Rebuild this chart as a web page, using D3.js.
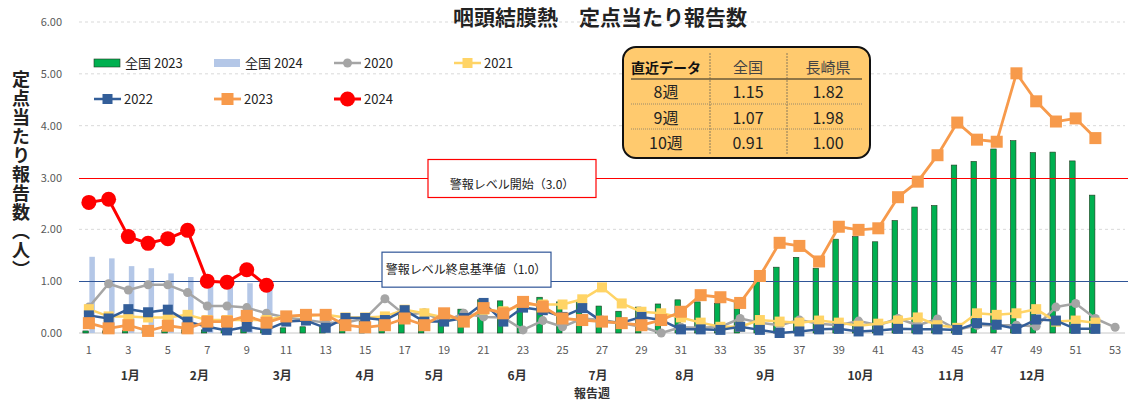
<!DOCTYPE html>
<html>
<head>
<meta charset="utf-8">
<script src="https://cdn.jsdelivr.net/npm/d3@7"></script>
<style>
  body { margin: 0; background: #fff; }
  text { font-family: "Noto Sans CJK JP", "Noto Sans", sans-serif; }
</style>
</head>
<body>
<div id="chart"></div>
<script>
// weeks 1..53
const weeks = d3.range(1, 54);
const xTicks = weeks.filter((w) => w % 2 === 1);
const yTicks = [0, 1, 2, 3, 4, 5, 6];

// month labels sit between week ticks
const months = ["1月", "2月", "3月", "4月", "5月", "6月", "7月", "8月", "9月", "10月", "11月", "12月"];
const monthWeek = [3.1, 6.6, 10.8, 15.0, 18.5, 22.7, 26.8, 31.2, 35.3, 40.1, 44.7, 48.8];

const zenkoku2023 = [
  0.04, 0.04, 0.05, 0.05, 0.05, 0.06, 0.06, 0.07, 0.08, 0.09,
  0.10, 0.12, 0.15, 0.20, 0.22, 0.25, 0.35, 0.30, 0.30, 0.46,
  0.64, 0.62, 0.55, 0.69, 0.60, 0.62, 0.52, 0.42, 0.50, 0.56,
  0.64, 0.60, 0.57, 0.62, 0.99, 1.27, 1.46, 1.25, 1.81, 1.86,
  1.76, 2.17, 2.43, 2.46, 3.24, 3.31, 3.55, 3.71, 3.48, 3.49,
  3.32, 2.66
];
const zenkoku2024 = [1.47, 1.44, 1.29, 1.25, 1.15, 1.08, 1.02, 0.98, 0.96, 0.84];

const y2020 = [
  0.50, 0.95, 0.83, 0.93, 0.93, 0.78, 0.52, 0.52, 0.49, 0.38,
  0.30, 0.25, 0.20, 0.20, 0.28, 0.66, 0.35, 0.39, 0.22, 0.38,
  0.31, 0.30, 0.06, 0.24, 0.12, 0.28, 0.25, 0.19, 0.12, 0.00,
  0.11, 0.10, 0.12, 0.28, 0.20, 0.15, 0.25, 0.18, 0.15, 0.23,
  0.15, 0.28, 0.15, 0.27, 0.06, 0.15, 0.15, 0.15, 0.13, 0.50,
  0.57, 0.28, 0.11
];
const y2021 = [
  0.46, 0.32, 0.32, 0.30, 0.30, 0.35, 0.25, 0.25, 0.25, 0.25,
  0.33, 0.33, 0.35, 0.30, 0.30, 0.32, 0.45, 0.38, 0.30, 0.25,
  0.45, 0.42, 0.55, 0.55, 0.55, 0.65, 0.88, 0.57, 0.41, 0.38,
  0.30, 0.20, 0.12, 0.12, 0.25, 0.22, 0.20, 0.24, 0.20, 0.14,
  0.18, 0.24, 0.30, 0.15, 0.10, 0.38, 0.35, 0.38, 0.46, 0.22,
  0.24, 0.20
];
const y2022 = [
  0.34, 0.28, 0.46, 0.40, 0.45, 0.22, 0.12, 0.05, 0.12, 0.06,
  0.22, 0.24, 0.10, 0.29, 0.29, 0.25, 0.44, 0.22, 0.22, 0.29,
  0.58, 0.22, 0.49, 0.44, 0.31, 0.48, 0.22, 0.20, 0.31, 0.25,
  0.07, 0.07, 0.06, 0.12, 0.06, 0.00, 0.03, 0.07, 0.08, 0.03,
  0.05, 0.08, 0.07, 0.07, 0.06, 0.19, 0.16, 0.08, 0.26, 0.24,
  0.08, 0.08
];
const y2023 = [
  0.19, 0.09, 0.15, 0.04, 0.14, 0.09, 0.22, 0.22, 0.33, 0.20,
  0.32, 0.35, 0.35, 0.15, 0.11, 0.15, 0.28, 0.15, 0.38, 0.22,
  0.48, 0.38, 0.60, 0.51, 0.28, 0.25, 0.22, 0.19, 0.15, 0.25,
  0.41, 0.73, 0.69, 0.58, 1.10, 1.74, 1.68, 1.38, 2.05, 1.99,
  2.02, 2.62, 2.92, 3.43, 4.06, 3.73, 3.69, 5.01, 4.47, 4.08,
  4.14, 3.76
];
const y2024 = [2.52, 2.58, 1.86, 1.73, 1.82, 1.98, 1.00, 0.98, 1.22, 0.92];

// recent-data table
const tableHeader = ["直近データ", "全国", "長崎県"];
const tableWeeks = ["8週", "9週", "10週"];
const tableZenkoku = ["1.15", "1.07", "0.91"];
const tableNagasaki = ["1.82", "1.98", "1.00"];

const alertStart = 3.0;
const alertEnd = 1.0;

const width = 1128, height = 403;
const svg = d3.select("#chart").append("svg")
  .attr("width", width).attr("height", height);

const x = d3.scaleLinear().domain([0.5, 53.5]).range([79, 1125]);
const y = d3.scaleLinear().domain([0, 6]).range([333, 22]);

// title
svg.append("text")
  .attr("x", 600).attr("y", 25)
  .attr("text-anchor", "middle")
  .attr("font-size", 21).attr("font-weight", "bold")
  .attr("fill", "#222")
  .text("咽頭結膜熱　定点当たり報告数");

// y axis title (vertical)
svg.append("text")
  .attr("x", 21).attr("y", 70)
  .attr("font-size", 18).attr("font-weight", "bold")
  .attr("fill", "#222")
  .style("writing-mode", "vertical-rl")
  .style("letter-spacing", "1px")
  .text("定点当たり報告数（人）");

// grid
svg.append("g").selectAll("line")
  .data(yTicks.filter((t) => t > 0 && t !== alertStart && t !== alertEnd))
  .join("line")
  .attr("x1", x.range()[0]).attr("x2", x.range()[1])
  .attr("y1", (d) => y(d)).attr("y2", (d) => y(d))
  .attr("stroke", "#d9d9d9").attr("stroke-dasharray", "3,3");

svg.append("line")
  .attr("x1", x.range()[0]).attr("x2", x.range()[1])
  .attr("y1", y(0)).attr("y2", y(0))
  .attr("stroke", "#c8c8c8");

// y tick labels
svg.append("g").selectAll("text")
  .data(yTicks)
  .join("text")
  .attr("x", 62).attr("y", (d) => y(d) + 4)
  .attr("text-anchor", "end")
  .attr("font-size", 11).attr("fill", "#595959")
  .attr("font-family", "Liberation Sans")
  .text((d) => d3.format(".2f")(d));

// x tick labels
svg.append("g").selectAll("text")
  .data(xTicks)
  .join("text")
  .attr("x", (d) => x(d)).attr("y", 354)
  .attr("text-anchor", "middle")
  .attr("font-size", 11).attr("fill", "#595959")
  .attr("font-family", "Liberation Sans")
  .text((d) => d);

// months
svg.append("g").selectAll("text")
  .data(months)
  .join("text")
  .attr("x", (d, i) => x(monthWeek[i])).attr("y", 380)
  .attr("text-anchor", "middle")
  .attr("font-size", 12).attr("font-weight", "bold")
  .attr("fill", "#333")
  .text((d) => d);

svg.append("text")
  .attr("x", 592).attr("y", 398)
  .attr("text-anchor", "middle")
  .attr("font-size", 12).attr("font-weight", "bold")
  .attr("fill", "#333")
  .text("報告週");

// bars
const barW = 5.5;
svg.append("g").selectAll("rect")
  .data(zenkoku2023)
  .join("rect")
  .attr("x", (d, i) => x(weeks[i]) - barW - 0.5)
  .attr("y", (d) => y(d))
  .attr("width", barW)
  .attr("height", (d) => y(0) - y(d))
  .attr("fill", "#00B050")
  .attr("stroke", "#1f3a1f").attr("stroke-width", 0.6);

svg.append("g").selectAll("rect")
  .data(zenkoku2024)
  .join("rect")
  .attr("x", (d, i) => x(weeks[i]) + 0.5)
  .attr("y", (d) => y(d))
  .attr("width", barW)
  .attr("height", (d) => y(0) - y(d))
  .attr("fill", "#B4C7E7");

// alert lines
svg.append("line")
  .attr("x1", x.range()[0]).attr("x2", 1128)
  .attr("y1", Math.round(y(alertStart)) + 0.5).attr("y2", Math.round(y(alertStart)) + 0.5)
  .attr("stroke", "#FF0000").attr("stroke-width", 1.5)
  .attr("shape-rendering", "crispEdges");
svg.append("line")
  .attr("x1", x.range()[0]).attr("x2", 1128)
  .attr("y1", Math.round(y(alertEnd)) + 0.5).attr("y2", Math.round(y(alertEnd)) + 0.5)
  .attr("stroke", "#2F5597").attr("stroke-width", 1.5)
  .attr("shape-rendering", "crispEdges");

// line series
const series = [
  { name: "2020", values: y2020, color: "#A5A5A5", shape: "circle", size: 4.5, lw: 2.5 },
  { name: "2021", values: y2021, color: "#FFD466", shape: "square", size: 10, lw: 2.5 },
  { name: "2022", values: y2022, color: "#335E99", shape: "square", size: 10, lw: 2.5 },
  { name: "2023", values: y2023, color: "#F79A4B", shape: "square", size: 12, lw: 2.8 },
  { name: "2024", values: y2024, color: "#FF0000", shape: "circle", size: 7.5, lw: 3 }
];

function drawMarker(g, s, cx, cy) {
  if (s.shape === "circle") {
    g.append("circle").attr("cx", cx).attr("cy", cy).attr("r", s.size).attr("fill", s.color);
  } else {
    g.append("rect")
      .attr("x", cx - s.size / 2).attr("y", cy - s.size / 2)
      .attr("width", s.size).attr("height", s.size)
      .attr("fill", s.color);
  }
}

const line = d3.line().x((d, i) => x(weeks[i])).y((d) => y(d));

series.forEach((s) => {
  const g = svg.append("g");
  g.append("path")
    .attr("d", line(s.values))
    .attr("fill", "none")
    .attr("stroke", s.color)
    .attr("stroke-width", s.lw)
    .attr("stroke-linejoin", "round");
  s.values.forEach((v, i) => drawMarker(g, s, x(weeks[i]), y(v)));
});

// alert labels
const redBox = svg.append("g");
redBox.append("rect")
  .attr("x", 428).attr("y", y(alertStart) - 18)
  .attr("width", 168).attr("height", 38)
  .attr("fill", "#fff").attr("stroke", "#FF0000").attr("stroke-width", 1.2);
redBox.append("text")
  .attr("x", 512).attr("y", y(alertStart) + 11)
  .attr("text-anchor", "middle").attr("font-size", 12).attr("fill", "#222")
  .text("警報レベル開始（3.0）");

const blueBox = svg.append("g");
blueBox.append("rect")
  .attr("x", 382).attr("y", y(alertEnd) - 29)
  .attr("width", 169).attr("height", 35)
  .attr("fill", "#fff").attr("stroke", "#2F5597").attr("stroke-width", 1.2);
blueBox.append("text")
  .attr("x", 466).attr("y", y(alertEnd) - 7)
  .attr("text-anchor", "middle").attr("font-size", 12).attr("fill", "#222")
  .text("警報レベル終息基準値（1.0）");

// legend
const legend = svg.append("g").attr("font-size", 13).attr("fill", "#222");
const legendBars = [
  { name: "全国 2023", color: "#00B050", stroke: "#1f3a1f", x: 94, y: 63 },
  { name: "全国 2024", color: "#B4C7E7", stroke: "none", x: 214, y: 63 }
];
legendBars.forEach((b) => {
  legend.append("rect").attr("x", b.x).attr("y", b.y - 4).attr("width", 26).attr("height", 8)
    .attr("fill", b.color).attr("stroke", b.stroke).attr("stroke-width", 0.6);
  legend.append("text").attr("x", b.x + 31).attr("y", b.y + 5).text(b.name);
});
const legendPos = { "2020": [334, 63], "2021": [454, 63], "2022": [94, 99], "2023": [214, 99], "2024": [334, 99] };
series.forEach((s) => {
  const [lx, ly] = legendPos[s.name];
  const g = legend.append("g");
  g.append("line").attr("x1", lx).attr("x2", lx + 27).attr("y1", ly).attr("y2", ly)
    .attr("stroke", s.color).attr("stroke-width", s.lw);
  drawMarker(g, s, lx + 13.5, ly);
  g.append("text").attr("x", lx + 30).attr("y", ly + 5).text(s.name);
});

// table
const tb = svg.append("g");
const tx = 623, ty = 47, tw = 247, th = 111;
tb.append("rect").attr("x", tx).attr("y", ty).attr("width", tw).attr("height", th)
  .attr("rx", 13).attr("fill", "#FFCA6E").attr("stroke", "#111").attr("stroke-width", 2);
const colX = [tx, 710, 787, tx + tw];
const rowY = [ty, 79, 104, 129, ty + th];
tb.selectAll("line.v").data([colX[1], colX[2]]).join("line")
  .attr("x1", (d) => d).attr("x2", (d) => d).attr("y1", ty + 6).attr("y2", ty + th - 4)
  .attr("stroke", "#8a7a5a").attr("stroke-width", 1).attr("stroke-dasharray", "2,1");
tb.append("line").attr("x1", tx + 8).attr("x2", tx + tw - 8).attr("y1", rowY[1]).attr("y2", rowY[1])
  .attr("stroke", "#6b5a3a").attr("stroke-width", 1.3);
tb.selectAll("line.h").data([rowY[2], rowY[3]]).join("line")
  .attr("x1", tx + 8).attr("x2", tx + tw - 8).attr("y1", (d) => d).attr("y2", (d) => d)
  .attr("stroke", "#9a8a6a").attr("stroke-width", 1).attr("stroke-dasharray", "1,1");
const colC = [666, 748, 828];
tableHeader.forEach((h, i) => {
  tb.append("text").attr("x", colC[i]).attr("y", 73)
    .attr("text-anchor", "middle")
    .attr("font-size", i === 0 ? 14 : 15)
    .attr("font-weight", i === 0 ? "bold" : "normal")
    .attr("fill", i === 0 ? "#111" : "#444")
    .text(h);
});
const rows = tableWeeks.map((w, i) => [w, tableZenkoku[i], tableNagasaki[i]]);
rows.forEach((r, ri) => {
  r.forEach((c, ci) => {
    tb.append("text").attr("x", colC[ci]).attr("y", 98 + ri * 25.5)
      .attr("text-anchor", "middle").attr("font-size", 16).attr("fill", "#222")
      .text(c);
  });
});
</script>
</body>
</html>
